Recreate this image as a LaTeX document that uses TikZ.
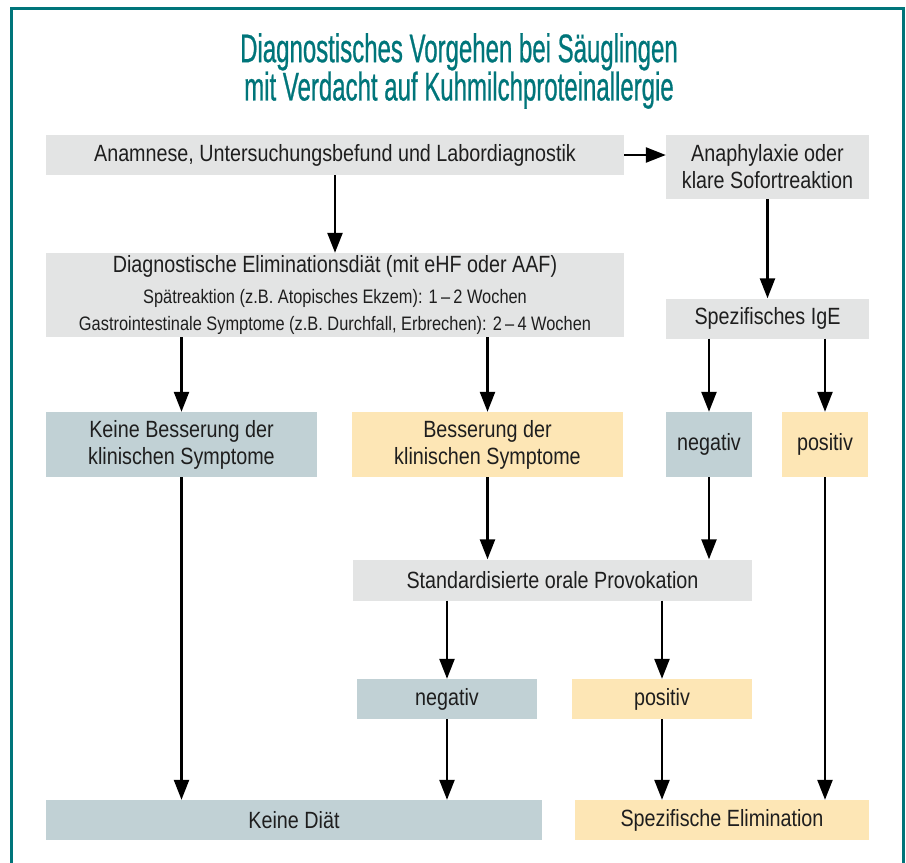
\documentclass[tikz,border=0pt]{standalone}
\usepackage{fontspec}
\setmainfont{Liberation Sans}[FakeStretch=0.84]
\newfontfamily\titelfont{Liberation Sans}[FakeStretch=0.6, FakeBold=0.6]
\newcommand{\kleinschrift}{\fontsize{19.5}{23}\selectfont}
\usepackage{tikz}
\usetikzlibrary{arrows.meta}
\usetikzlibrary{decorations.markings}
\definecolor{mgrau}{HTML}{E3E4E4}
\definecolor{mblau}{HTML}{C1D1D5}
\definecolor{mgelb}{HTML}{FDE6B5}
\definecolor{mteal}{HTML}{00757A}
\definecolor{mtext}{HTML}{1E1E1E}
\tikzset{pfeil/.style = {line width = 2.4, shorten >= 5,
                         decoration={markings,
                                     mark=at position 1 with {\arrow{Triangle[length=20pt, width=15pt]}}},
                         postaction={decorate}}}
\tikzset{kasten/.style = {inner sep = 0, align = center, text = mtext,
                          font = \fontsize{23.5}{27}\selectfont}}
\tikzset{grau/.style = {kasten, fill = mgrau}}
\tikzset{blau/.style = {kasten, fill = mblau}}
\tikzset{gelb/.style = {kasten, fill = mgelb}}

\begin{document}
\begin{tikzpicture}[x=1pt, y=-1pt]
      \useasboundingbox (0, 0) rectangle (906, 863);
      \draw [mteal, line width = 2.8] (11.3, 863) -- (11.3, 8.3) -- (903.3, 8.3) -- (903.3, 863);

      \node [text=mteal, align=center, font=\titelfont\fontsize{40}{34}\selectfont] (titel) at (459, 71)
            {Diagnostisches Vorgehen bei Säuglingen\\mit Verdacht auf Kuhmilchproteinallergie};

      \node [grau, minimum width=578, minimum height=40] (anam) at (335, 155)
            {Anamnese, Untersuchungsbefund und Labordiagnostik};
      \node [grau, minimum width=203, minimum height=64] (anaph) at (767.5, 167)
            {Anaphylaxie oder\\klare Sofortreaktion};
      \node [grau, minimum width=578, minimum height=84] (elim) at (335, 295)
            {Diagnostische Eliminationsdiät (mit eHF oder AAF)\\[4pt]
             \kleinschrift Spätreaktion (z.B. Atopisches Ekzem): 1\,–\,2 Wochen\\
             \kleinschrift Gastrointestinale Symptome (z.B. Durchfall, Erbrechen): 2\,–\,4 Wochen};
      \node [grau, minimum width=203, minimum height=40] (ige) at (767.5, 318.5) {Spezifisches IgE};

      \node [blau, minimum width=271, minimum height=65] (kbess) at (181.5, 444.5)
            {Keine Besserung der\\klinischen Symptome};
      \node [gelb, minimum width=271, minimum height=65] (bess) at (487.5, 444.5)
            {Besserung der\\klinischen Symptome};
      \node [blau, minimum width=86, minimum height=65] (neg) at (709, 444.5) {negativ};
      \node [gelb, minimum width=86, minimum height=65] (pos) at (825, 444.5) {positiv};

      \node [grau, minimum width=399, minimum height=41] (prov) at (552.5, 580)
            {Standardisierte orale Provokation};
      \node [blau, minimum width=180, minimum height=40] (pneg) at (447, 699) {negativ};
      \node [gelb, minimum width=180, minimum height=40] (ppos) at (662, 699) {positiv};

      \node [blau, minimum width=496, minimum height=40] (keine) at (294, 820) {Keine Diät};
      \node [gelb, minimum width=294, minimum height=40] (spez) at (722, 820) {Spezifische Elimination};

      \draw [pfeil] (anam.east) -- (anam.east -| anaph.west);
      \draw [pfeil] (anam.south) -- (elim.north);
      \draw [pfeil] (anaph.south) -- (ige.north);
      \draw [pfeil] (kbess.north |- elim.south) -- (kbess.north);
      \draw [pfeil] (bess.north |- elim.south) -- (bess.north);
      \draw [pfeil] (neg.north |- ige.south) -- (neg.north);
      \draw [pfeil] (pos.north |- ige.south) -- (pos.north);
      \draw [pfeil] (bess.south) -- (bess.south |- prov.north);
      \draw [pfeil] (neg.south) -- (neg.south |- prov.north);
      \draw [pfeil] (pneg.north |- prov.south) -- (pneg.north);
      \draw [pfeil] (ppos.north |- prov.south) -- (ppos.north);
      \draw [pfeil] (kbess.south) -- (kbess.south |- keine.north);
      \draw [pfeil] (pneg.south) -- (pneg.south |- keine.north);
      \draw [pfeil] (ppos.south) -- (ppos.south |- spez.north);
      \draw [pfeil] (pos.south) -- (pos.south |- spez.north);
\end{tikzpicture}
\end{document}
